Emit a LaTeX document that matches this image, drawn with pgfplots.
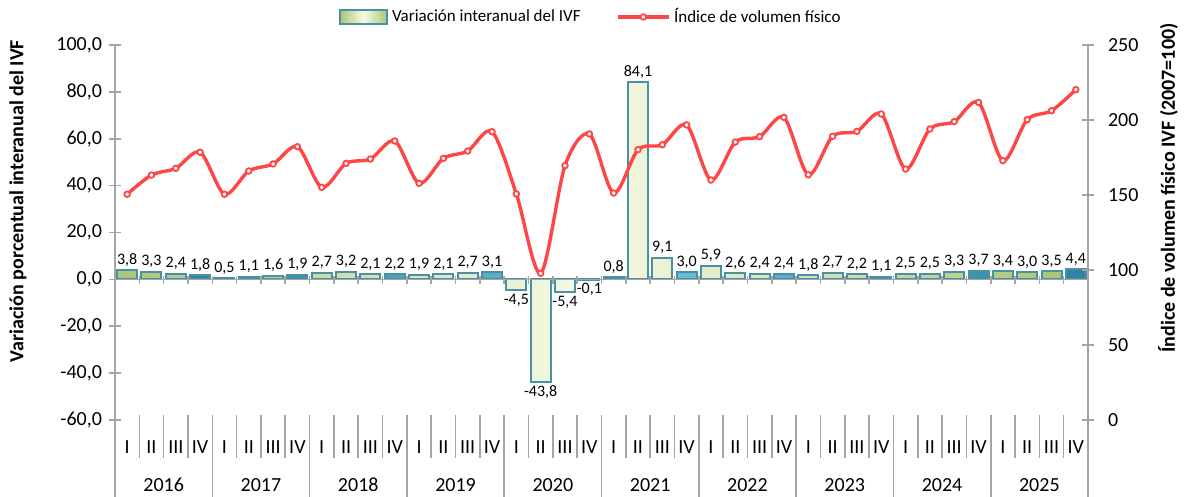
\documentclass[border=0pt]{standalone}
\usepackage{pgfplots}
\pgfplotsset{compat=1.18}
\usepackage{fontspec}
\setmainfont{Carlito}
\definecolor{axgray}{RGB}{165,165,165}
\definecolor{ivfred}{RGB}{255,70,70}
\definecolor{barborder}{RGB}{75,145,165}
\definecolor{baredge}{RGB}{170,198,120}
\definecolor{barmid}{RGB}{247,250,230}
\definecolor{q4edge}{RGB}{45,130,160}
\definecolor{q4mid}{RGB}{110,195,220}
\pgfplotsset{mylinelegend/.style={legend image code/.code={\draw[##1, mark repeat=2, mark phase=2] plot coordinates {(0pt,0pt)(12.5pt,0pt)(25pt,0pt)};}}}
\begin{document}
\begin{tikzpicture}
\pgfplotsset{
  base/.style={
    scale only axis, width=486.5pt, height=187.5pt,
    xmin=-0.5, xmax=39.5,
    tick align=center, major tick length=6pt,
    every tick/.style={axgray, line width=0.8pt},
    axis line style={axgray, line width=0.8pt},
    tick label style={font=\fontsize{10}{12}\selectfont, black},
    /pgf/number format/assume math mode=true,
  }
}
\begin{axis}[base, name=main, clip=false,
  axis y line*=left, axis x line*=bottom,
  x axis line style={draw=none},
  ymin=-60, ymax=100, ytick={-60,-40,...,100},
  /pgf/number format/fixed, /pgf/number format/fixed zerofill,
  /pgf/number format/precision=1, /pgf/number format/use comma,
  xtick=\empty,
  ybar, bar width=10pt, bar shift=0pt,
  nodes near coords,
  nodes near coords style={font=\fontsize{8}{9}\selectfont, black, inner sep=1.5pt},
]
\addplot[draw=barborder, line width=1pt, left color=baredge, right color=baredge, middle color=barmid]
 coordinates {(0,3.8)(1,3.3)(2,2.4)(4,0.5)(5,1.1)(6,1.6)(8,2.7)(9,3.2)(10,2.1)(12,1.9)(13,2.1)(14,2.7)(16,-4.5)(17,-43.8)(18,-5.4)(20,0.8)(21,84.1)(22,9.1)(24,5.9)(25,2.6)(26,2.4)(28,1.8)(29,2.7)(30,2.2)(32,2.5)(33,2.5)(34,3.3)(36,3.4)(37,3.0)(38,3.5)};
\addplot[draw=barborder, line width=1pt, left color=q4edge, right color=q4edge, middle color=q4mid]
 coordinates {(3,1.8)(7,1.9)(11,2.2)(15,3.1)(19,-0.1)(23,3.0)(27,2.4)(31,1.1)(35,3.7)(39,4.4)};
\end{axis}
% zero line with category ticks
\draw[axgray, line width=0.8pt] ([yshift=70.3125pt]main.south west) -- ([yshift=70.3125pt]main.south east);
\foreach \k in {0,...,40}
  \draw[axgray, line width=0.8pt] ([xshift=\k*12.1625pt, yshift=71.8pt]main.south west) -- ++(0,-4pt);
% category separators
\foreach \k in {1,...,39}
  \draw[axgray, line width=0.8pt] ([xshift=\k*12.1625pt, yshift=2.5pt]main.south west) -- ++(0,-21.5pt);
\foreach \k in {0,4,...,40}
  \draw[axgray, line width=0.8pt] ([xshift=\k*12.1625pt, yshift=2.5pt]main.south west) -- ++(0,-41pt);
% quarter labels
\foreach \yr in {0,...,9}
  \foreach \q [count=\j from 0] in {I,II,III,IV}
    \node[font=\fontsize{10}{12}\selectfont] at ([xshift={(4*\yr+\j+0.5)*12.1625pt}, yshift=-13.5pt]main.south west) {\q};
% year labels
\foreach \y [count=\i from 0] in {2016,2017,2018,2019,2020,2021,2022,2023,2024,2025}
  \node[font=\fontsize{10}{12}\selectfont] at ([xshift={(4*\i+2)*12.1625pt}, yshift=-32.5pt]main.south west) {\y};
% axis titles
\node[rotate=90, font=\bfseries\fontsize{10}{12}\selectfont] at ([xshift=-48.5pt, yshift=109.5pt]main.south west) {Variación porcentual interanual del IVF};
\node[rotate=90, font=\bfseries\fontsize{10}{12}\selectfont] at ([xshift=40pt, yshift=116pt]main.south east) {Índice de volumen físico IVF (2007=100)};
\begin{axis}[base,
  axis y line*=right, axis x line=none,
  ymin=0, ymax=250, ytick={0,50,...,250},
  yticklabel style={xshift=3.5pt},
  legend style={draw=none, fill=none, at={(0.49,1)}, anchor=center, yshift=14pt,
    legend columns=2, font=\fontsize{8.5}{10}\selectfont,
    /tikz/every even column/.append style={column sep=16pt}},
  legend cell align=left,
]
\addlegendimage{legend image code/.code={\draw[barborder, line width=1pt, left color=baredge, right color=baredge, middle color=barmid] (0pt,-3.5pt) rectangle (23.5pt,3.5pt);}}
\addlegendentry{Variación interanual del IVF}
\addplot[ivfred, line width=1.7pt, smooth, mark=*, mark size=1.4pt,
  mark options={fill=white, draw=ivfred, line width=0.9pt}, mylinelegend]
 coordinates {(0,150.5)(1,163.3)(2,167.8)(3,178.5)(4,150.5)(5,166.0)(6,170.7)(7,182.2)(8,155.1)(9,171.1)(10,174.0)(11,186.0)(12,157.8)(13,174.4)(14,179.3)(15,192.2)(16,150.7)(17,97.8)(18,169.6)(19,190.7)(20,151.3)(21,180.2)(22,183.5)(23,196.7)(24,160.0)(25,185.3)(26,188.9)(27,201.7)(28,163.5)(29,189.1)(30,192.4)(31,204.0)(32,167.3)(33,194.0)(34,198.9)(35,211.7)(36,172.9)(37,200.2)(38,206.2)(39,220.2)};
\addlegendentry{Índice de volumen físico}
\end{axis}
\pgfresetboundingbox
\path[use as bounding box] ([xshift=-57.5pt, yshift=-38.5pt]main.south west) rectangle ([xshift=50pt, yshift=22.5pt]main.north east);
\end{tikzpicture}
\end{document}
